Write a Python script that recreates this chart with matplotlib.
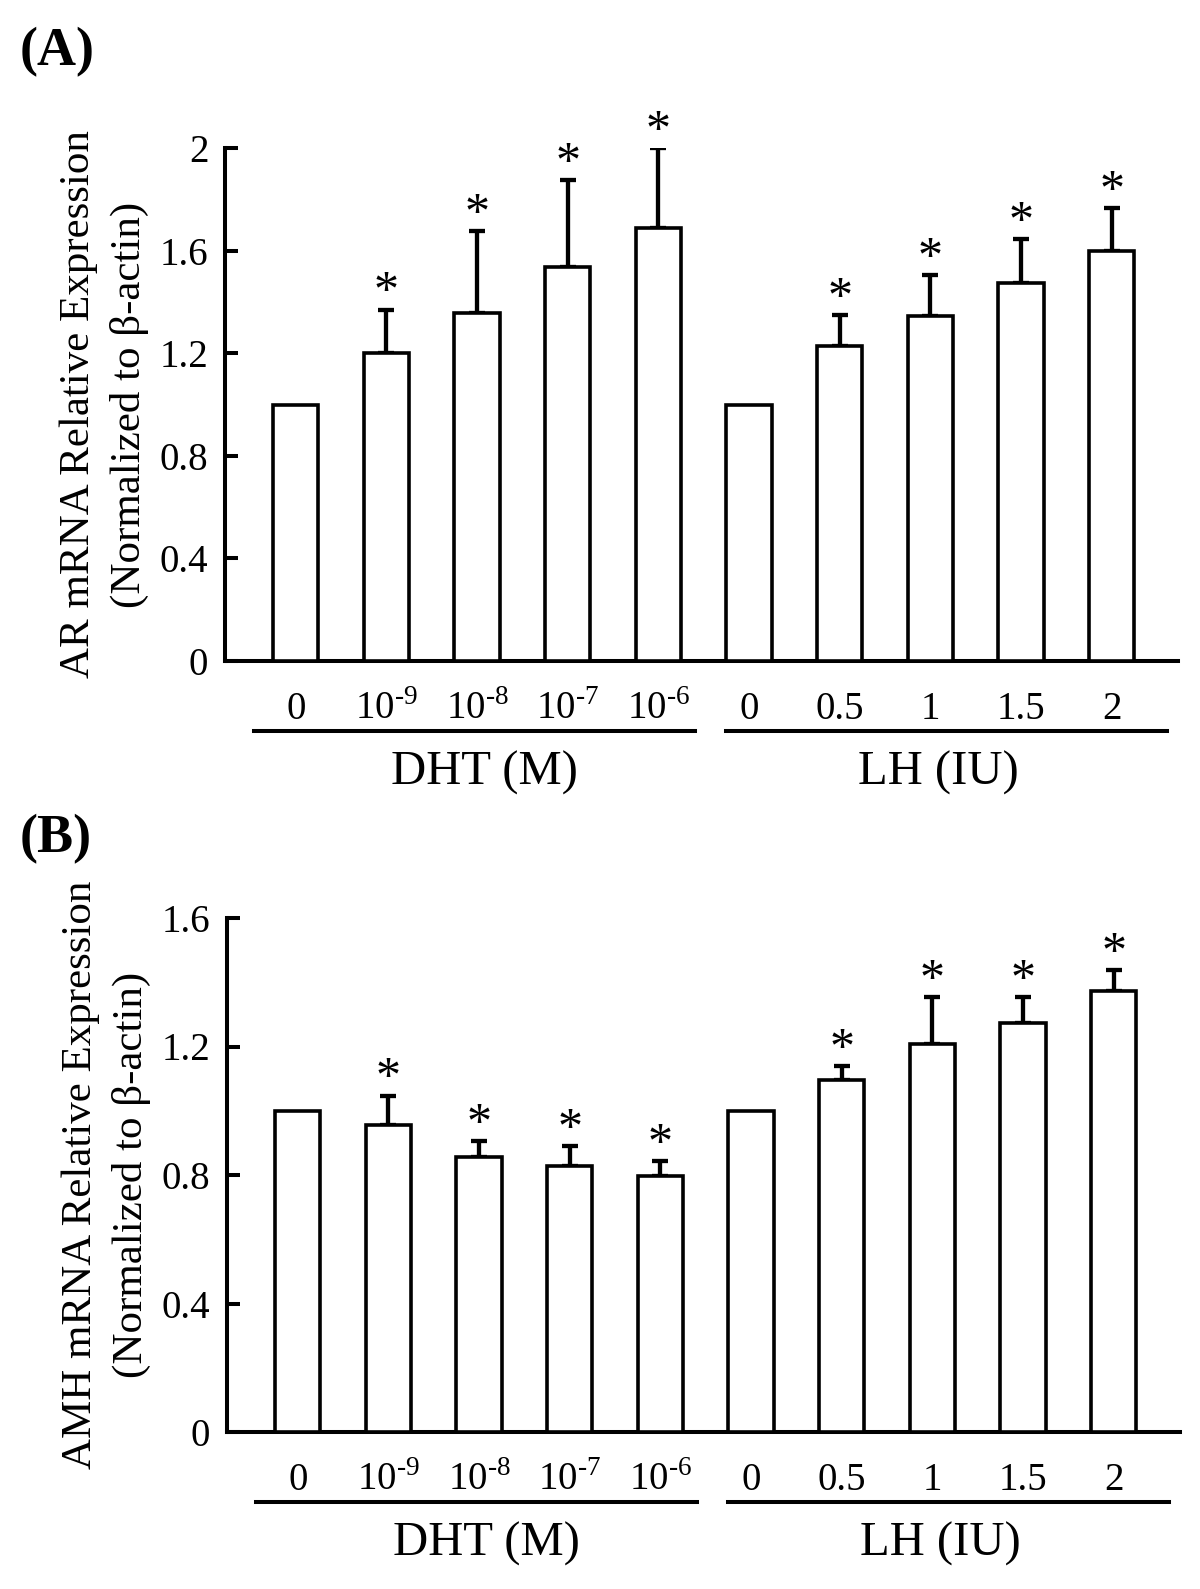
import numpy as np
import matplotlib.pyplot as plt
from matplotlib import transforms
from matplotlib.lines import Line2D

plt.rcParams['font.family'] = ['Liberation Serif', 'DejaVu Serif']
plt.rcParams['mathtext.fontset'] = 'custom'
plt.rcParams['mathtext.rm'] = 'Liberation Serif'

# doses (x categories)
dose_labels = ['0', r'10$^{\text{-9}}$', r'10$^{\text{-8}}$', r'10$^{\text{-7}}$', r'10$^{\text{-6}}$',
               '0', '0.5', '1', '1.5', '2']
group_names = ['DHT (M)', 'LH (IU)']

# (A) AR mRNA
ar_mean = [1.00, 1.20, 1.355, 1.535, 1.69, 1.00, 1.23, 1.345, 1.475, 1.60]
ar_err = [0, 0.17, 0.32, 0.34, 0.31, 0, 0.12, 0.16, 0.17, 0.165]
ar_sig = [False, True, True, True, True, False, True, True, True, True]

# (B) AMH mRNA
amh_mean = [1.00, 0.955, 0.855, 0.828, 0.798, 1.00, 1.095, 1.208, 1.272, 1.373]
amh_err = [0, 0.092, 0.05, 0.062, 0.046, 0, 0.043, 0.147, 0.083, 0.064]
amh_sig = [False, True, True, True, True, False, True, True, True, True]

lw = 2.9
tick_fs = 28


def draw_panel(ax, mean, err, sig, ymax, yticks, ylabel):
    x = np.arange(len(mean))
    mean = np.array(mean)
    err = np.array(err)
    ax.bar(x, mean, width=0.5, facecolor='white', edgecolor='black', linewidth=2.6, zorder=3)
    has = err > 0
    ax.errorbar(x[has], mean[has], yerr=[np.zeros(has.sum()), err[has]], fmt='none',
                ecolor='black', elinewidth=3.1, capsize=6, capthick=3.1, zorder=2)
    for i in range(len(mean)):
        if sig[i]:
            ax.annotate('*', xy=(x[i], mean[i] + err[i]), xytext=(0, 3), textcoords='offset points',
                        ha='center', va='baseline', fontsize=36)

    ax.set_xlim(-0.78, 9.73)
    ax.set_ylim(0, ymax)
    ax.set_yticks(yticks)
    ax.set_yticklabels(['%g' % t for t in yticks])
    ax.spines['top'].set_visible(False)
    ax.spines['right'].set_visible(False)
    ax.spines['left'].set_linewidth(lw)
    ax.spines['bottom'].set_linewidth(lw)
    ax.tick_params(axis='y', direction='in', length=9, width=lw, pad=12, labelsize=tick_fs)
    ax.set_xticks(x)
    ax.set_xticklabels(dose_labels)
    ax.tick_params(axis='x', length=0, pad=42, labelsize=tick_fs)
    for t in ax.get_xticklabels():
        t.set_verticalalignment('baseline')

    ax.set_ylabel(ylabel, fontsize=31, va='center', linespacing=1.4)
    ax.yaxis.set_label_coords(-0.127, 0.5)

    # group underlines and names
    fig = ax.figure
    trans = transforms.blended_transform_factory(ax.transData, ax.transAxes) + \
        transforms.ScaledTranslation(0, -0.70, fig.dpi_scale_trans)
    for (x0, x1), xc, name in zip([(-0.46, 4.40), (4.74, 9.61)], [2.08, 7.09], group_names):
        ax.add_line(Line2D([x0, x1], [0, 0], transform=trans, color='black', linewidth=lw,
                           clip_on=False))
        ax.annotate(name, xy=(xc, 0), xycoords=('data', 'axes fraction'), xytext=(0, -89),
                    textcoords='offset points', ha='center', va='baseline', fontsize=35)


fig = plt.figure(figsize=(12, 15.89), dpi=100)
axA = fig.add_axes([225 / 1200, 1 - 661 / 1589, 953 / 1200, 513 / 1589])
axB = fig.add_axes([227 / 1200, 1 - 1432 / 1589, 953 / 1200, 514 / 1589])

draw_panel(axA, ar_mean, ar_err, ar_sig, 2.0, [0, 0.4, 0.8, 1.2, 1.6, 2],
           'AR mRNA Relative Expression\n(Normalized to \u03b2-actin)')
draw_panel(axB, amh_mean, amh_err, amh_sig, 1.6, [0, 0.4, 0.8, 1.2, 1.6],
           'AMH mRNA Relative Expression\n(Normalized to \u03b2-actin)')

fig.text(20 / 1200, 1 - 52 / 1589, '(A)', fontsize=39, fontweight='bold', ha='left', va='center')
fig.text(20 / 1200, 1 - 839 / 1589, '(B)', fontsize=39, fontweight='bold', ha='left', va='center')

fig.savefig('out.png', dpi=100)
